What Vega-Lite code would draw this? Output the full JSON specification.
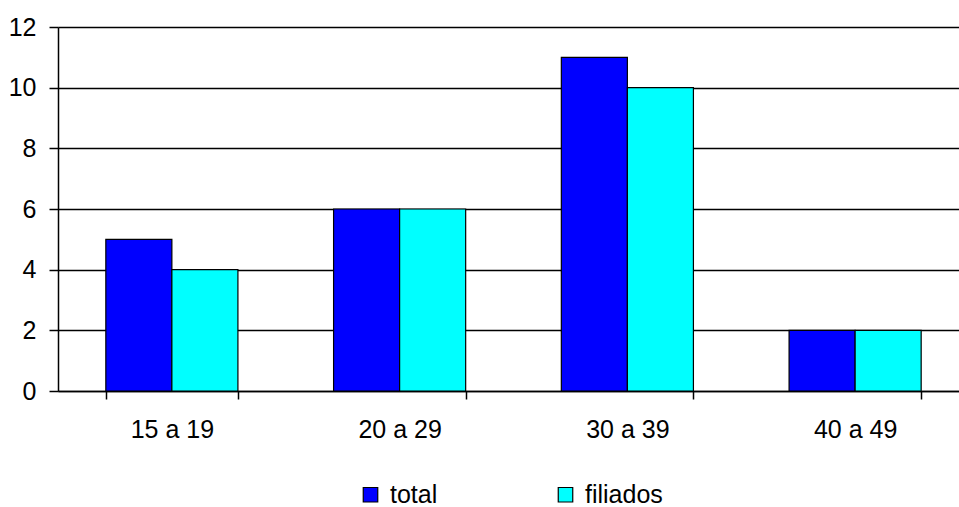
{
  "$schema": "https://vega.github.io/schema/vega-lite/v6.json",
  "width": 901,
  "height": 364,
  "autosize": {"type": "none"},
  "padding": {"left": 58, "top": 27, "right": 0, "bottom": 116},
  "config": {
    "font": "Liberation Sans",
    "view": {"stroke": null},
    "axis": {"labelFont": "Liberation Sans", "labelFontSize": 25, "labelColor": "black", "domainColor": "black", "tickColor": "black", "domainWidth": 1.5, "tickWidth": 1.5}
  },
  "data": {
    "values": [
      {"grupo": "15 a 19", "serie": "total", "valor": 5},
      {"grupo": "15 a 19", "serie": "filiados", "valor": 4},
      {"grupo": "20 a 29", "serie": "total", "valor": 6},
      {"grupo": "20 a 29", "serie": "filiados", "valor": 6},
      {"grupo": "30 a 39", "serie": "total", "valor": 11},
      {"grupo": "30 a 39", "serie": "filiados", "valor": 10},
      {"grupo": "40 a 49", "serie": "total", "valor": 2},
      {"grupo": "40 a 49", "serie": "filiados", "valor": 2}
    ]
  },
  "mark": {"type": "bar", "stroke": "black", "strokeWidth": 1.2},
  "encoding": {
    "x": {
      "field": "grupo",
      "type": "nominal",
      "sort": ["15 a 19", "20 a 29", "30 a 39", "40 a 49"],
      "scale": {"range": [0, 911], "paddingInner": 0.42, "paddingOuter": 0.21},
      "axis": {"title": null, "labelAngle": 0, "labelFontSize": 25, "tickBand": "extent", "tickSize": 8, "labelPadding": 18, "grid": false}
    },
    "xOffset": {"field": "serie", "sort": ["total", "filiados"]},
    "y": {
      "field": "valor",
      "type": "quantitative",
      "scale": {"domain": [0, 12], "nice": false},
      "axis": {"title": null, "labelFontSize": 25, "values": [0, 2, 4, 6, 8, 10, 12], "tickSize": 9, "labelPadding": 13, "grid": true, "gridColor": "black", "gridWidth": 1.4, "gridOpacity": 1}
    },
    "color": {
      "field": "serie",
      "type": "nominal",
      "sort": ["total", "filiados"],
      "scale": {"domain": ["total", "filiados"], "range": ["#0000FF", "#00FFFF"]},
      "legend": {
        "orient": "none",
        "legendX": 295,
        "legendY": 450,
        "padding": 5,
        "direction": "horizontal",
        "title": null,
        "symbolType": "square",
        "symbolSize": 210,
        "symbolStrokeColor": "black",
        "symbolStrokeWidth": 1.2,
        "symbolOpacity": 1,
        "labelFontSize": 25,
        "labelColor": "black",
        "labelOffset": 7,
        "columnPadding": 115
      }
    }
  }
}
